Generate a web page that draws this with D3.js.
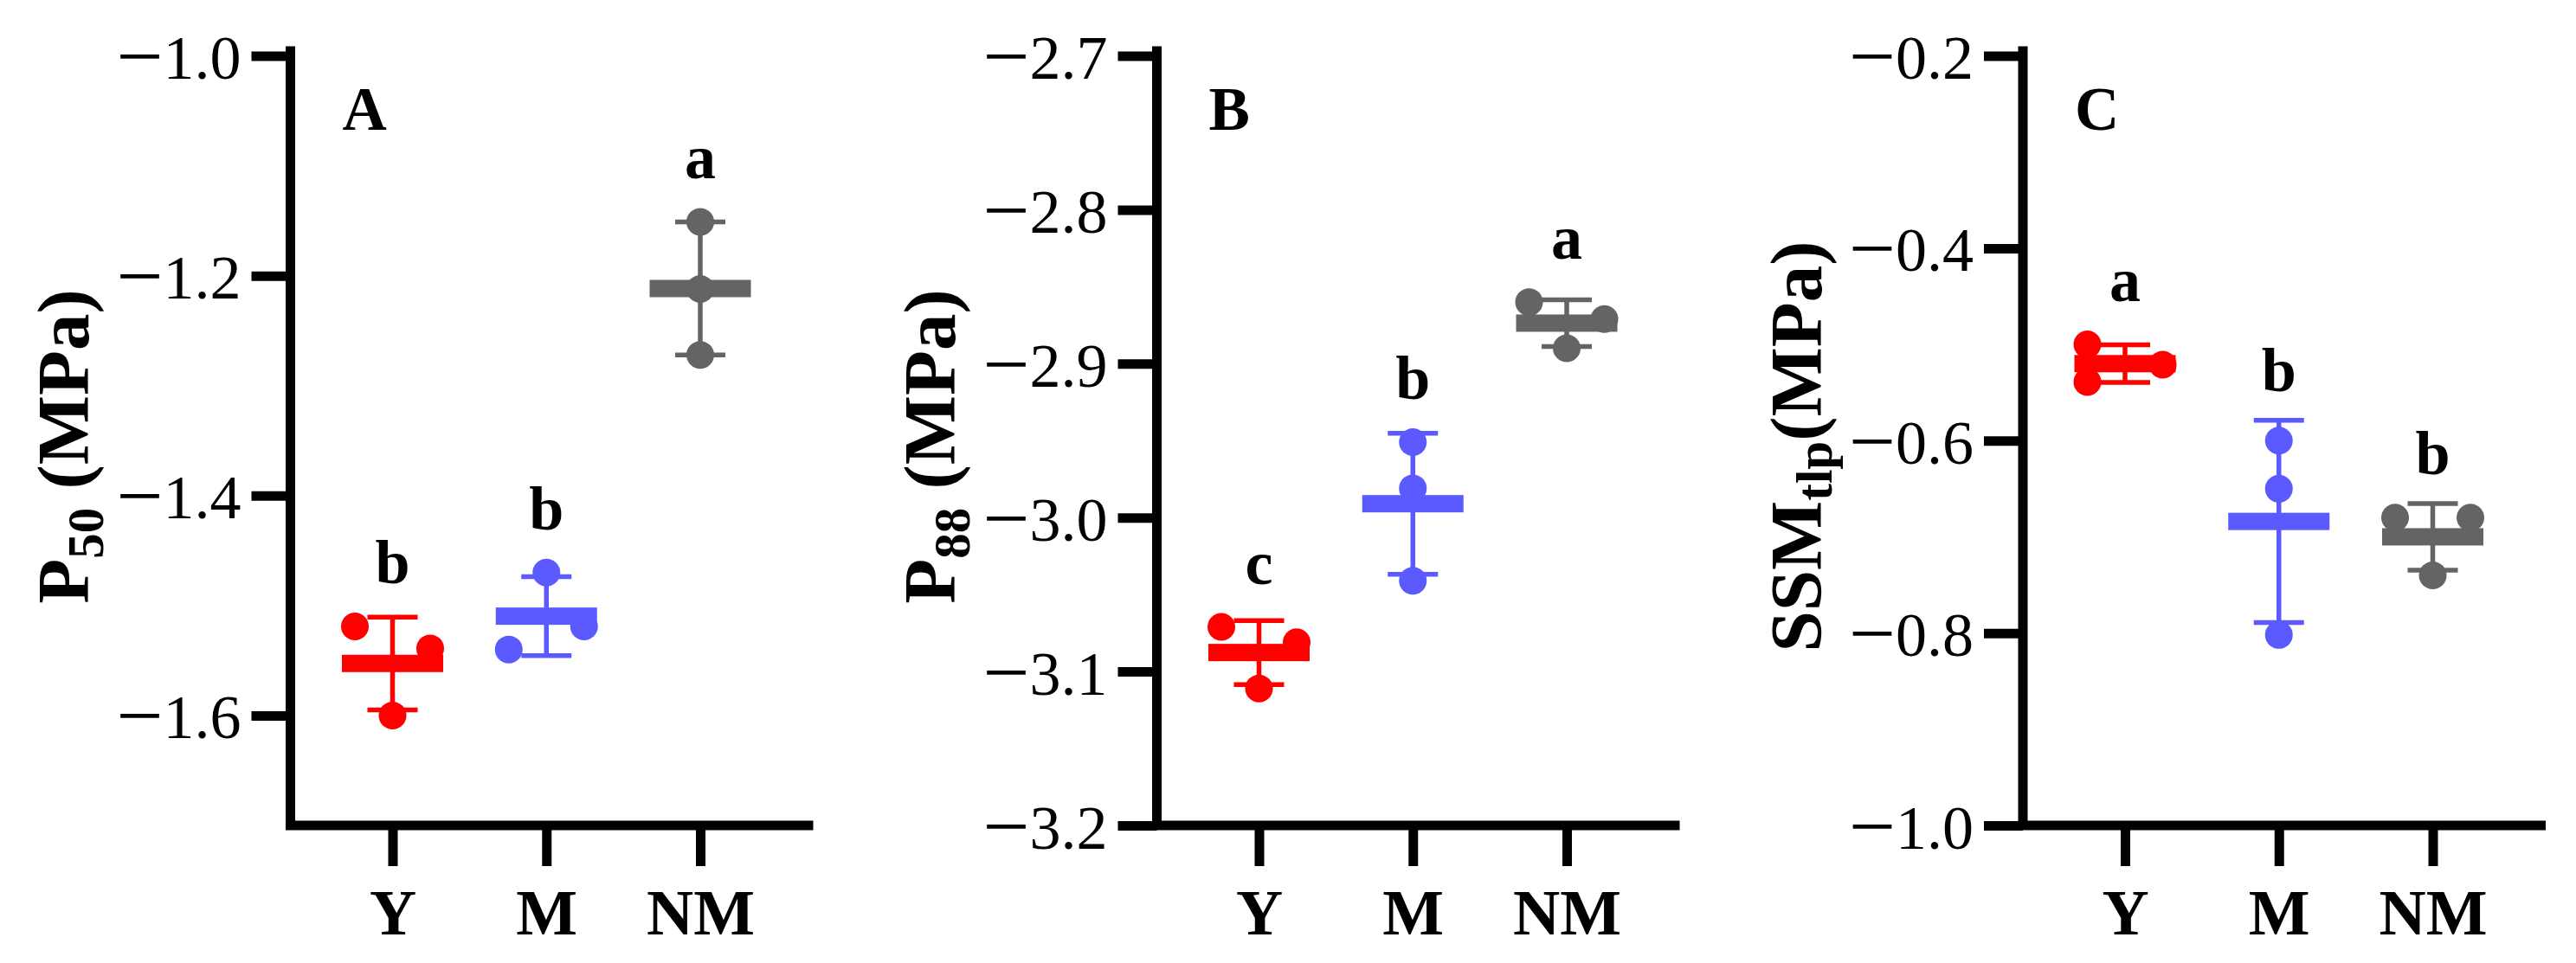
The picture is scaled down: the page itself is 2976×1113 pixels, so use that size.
<!DOCTYPE html>
<html>
<head>
<meta charset="utf-8">
<script src="https://cdn.jsdelivr.net/npm/d3@7.9.0/dist/d3.min.js"></script>
<style>
  body { margin: 0; background: #fff; }
  text { font-family: "Liberation Serif", "Times New Roman", serif; fill: #000; }
</style>
</head>
<body>
<svg id="chart" width="2976" height="1113"></svg>
<script>
// groups and colours
const cats = ["Y", "M", "NM"];
const colors = ["#ff0000", "#5a5aff", "#646464"];

// individual replicates, one array per group (MPa)
const p50Vals = [[-1.519, -1.539, -1.600], [-1.470, -1.519, -1.540], [-1.151, -1.212, -1.272]];
const p88Vals = [[-3.071, -3.081, -3.111], [-2.951, -2.981, -3.041], [-2.860, -2.871, -2.890]];
const ssmVals = [[-0.500, -0.521, -0.539], [-0.600, -0.650, -0.802], [-0.680, -0.680, -0.740]];

// side-by-side slot of each replicate (-1 left, 0 centre, 1 right)
const p50Slots = [[-1, 1, 0], [0, 1, -1], [0, 0, 0]];
const p88Slots = [[-1, 1, 0], [0, 0, 0], [-1, 1, 0]];
const ssmSlots = [[-1, 1, -1], [0, 0, 0], [-1, 1, 0]];

// significance letters
const p50Letters = ["b", "b", "a"];
const p88Letters = ["c", "b", "a"];
const ssmLetters = ["a", "b", "b"];

// axes
const p50Domain = [-1.7, -1.0];
const p88Domain = [-3.2, -2.7];
const ssmDomain = [-1.0, -0.2];
const p50Ticks = [-1.0, -1.2, -1.4, -1.6];
const p88Ticks = [-2.7, -2.8, -2.9, -3.0, -3.1, -3.2];
const ssmTicks = [-0.2, -0.4, -0.6, -0.8, -1.0];

const panels = [
  { vals: p50Vals, slots: p50Slots, letters: p50Letters, domain: p50Domain, ticks: p50Ticks,
    tag: "A", title: ["P", "50", "\u00a0(MPa)"], subDy: 17, left: 335.5 },
  { vals: p88Vals, slots: p88Slots, letters: p88Letters, domain: p88Domain, ticks: p88Ticks,
    tag: "B", title: ["P", "88", "\u00a0(MPa)"], subDy: 17, left: 1336.5 },
  { vals: ssmVals, slots: ssmSlots, letters: ssmLetters, domain: ssmDomain, ticks: ssmTicks,
    tag: "C", title: ["SSM", "tlp", "(MPa)"], subDy: 12, left: 2337 }
];

const svg = d3.select("#chart");
svg.append("rect").attr("width", 2976).attr("height", 1113).attr("fill", "#fff");

const yTop = 64.5, yBottom = 954, axisW = 11;
const xEnd = 598.5, r = 16, spread = 43.5;
const barW = 117, barH = 20, capW = 58, errW = 5.5;
const fmt = d3.format(".1f");

panels.forEach(p => {
  const g = svg.append("g").attr("transform", `translate(${p.left},0)`);

  const y = d3.scaleLinear().domain(p.domain).range([yBottom, yTop]);
  const x = d3.scalePoint().domain(cats).range([118, 473.5]);

  // y axis ticks + labels
  const ya = g.append("g").call(d3.axisLeft(y).tickValues(p.ticks)
    .tickFormat(fmt).tickSize(45).tickPadding(12));
  ya.select(".domain").remove();
  ya.selectAll(".tick line").attr("stroke", "#000").attr("stroke-width", axisW);
  // wider minus sign like the original figure
  ya.selectAll(".tick text").each(function (d) {
    const s = d3.select(this);
    const str = fmt(d);
    s.text(null).attr("dy", null).attr("y", 26).attr("font-size", 72)
      .style("font-family", "'Liberation Serif', serif");
    s.append("tspan").attr("font-size", 96).attr("dy", 6).text(str[0]);
    s.append("tspan").attr("dy", -6).text(str.slice(1));
  });

  // x axis ticks + labels
  const xa = g.append("g").attr("transform", `translate(0,${yBottom})`)
    .call(d3.axisBottom(x).tickSize(47).tickPadding(0));
  xa.select(".domain").remove();
  xa.selectAll(".tick line").attr("stroke", "#000").attr("stroke-width", axisW);
  xa.selectAll(".tick text").attr("y", 126).attr("dy", 0)
    .attr("font-size", 75).attr("font-weight", "bold")
    .style("font-family", "'Liberation Serif', serif");

  // axis lines
  g.append("path")
    .attr("d", `M0,${yTop - axisW / 2}V${yBottom}H${xEnd}`)
    .attr("fill", "none").attr("stroke", "#000").attr("stroke-width", axisW)
    .attr("stroke-linejoin", "miter").attr("stroke-linecap", "square");

  // groups
  p.vals.forEach((vals, i) => {
    const cx = x(cats[i]);
    const m = d3.mean(vals), sd = d3.deviation(vals);
    const c = colors[i];
    const gg = g.append("g");

    gg.append("line").attr("x1", cx).attr("x2", cx)
      .attr("y1", y(m + sd)).attr("y2", y(m - sd))
      .attr("stroke", c).attr("stroke-width", errW);
    [m + sd, m - sd].forEach(v => {
      gg.append("line").attr("x1", cx - capW / 2).attr("x2", cx + capW / 2)
        .attr("y1", y(v)).attr("y2", y(v))
        .attr("stroke", c).attr("stroke-width", errW);
    });

    gg.selectAll("circle").data(vals).join("circle")
      .attr("cx", (d, j) => cx + p.slots[i][j] * spread)
      .attr("cy", d => y(d))
      .attr("r", r).attr("fill", c);

    gg.append("rect").attr("x", cx - barW / 2).attr("y", y(m) - barH / 2)
      .attr("width", barW).attr("height", barH).attr("fill", c);

    // letter above the highest of error cap and points
    const hi = Math.min(y(m + sd), y(d3.max(vals)) - r);
    g.append("text").attr("x", cx).attr("y", hi - 34)
      .attr("text-anchor", "middle").attr("font-size", 72).attr("font-weight", "bold")
      .text(p.letters[i]);
  });

  // panel tag
  g.append("text").attr("x", 60).attr("y", 150)
    .attr("font-size", 71).attr("font-weight", "bold").text(p.tag);

  // y title, baseline ~233 px left of the axis
  const t = g.append("text")
    .attr("transform", "translate(-233.5,516) rotate(-90)")
    .attr("text-anchor", "middle").attr("font-weight", "bold").attr("font-size", 85);
  t.append("tspan").text(p.title[0]);
  t.append("tspan").attr("font-size", 59).attr("dy", p.subDy).text(p.title[1]);
  t.append("tspan").attr("dy", -p.subDy).text(p.title[2]);
});
</script>
</body>
</html>
